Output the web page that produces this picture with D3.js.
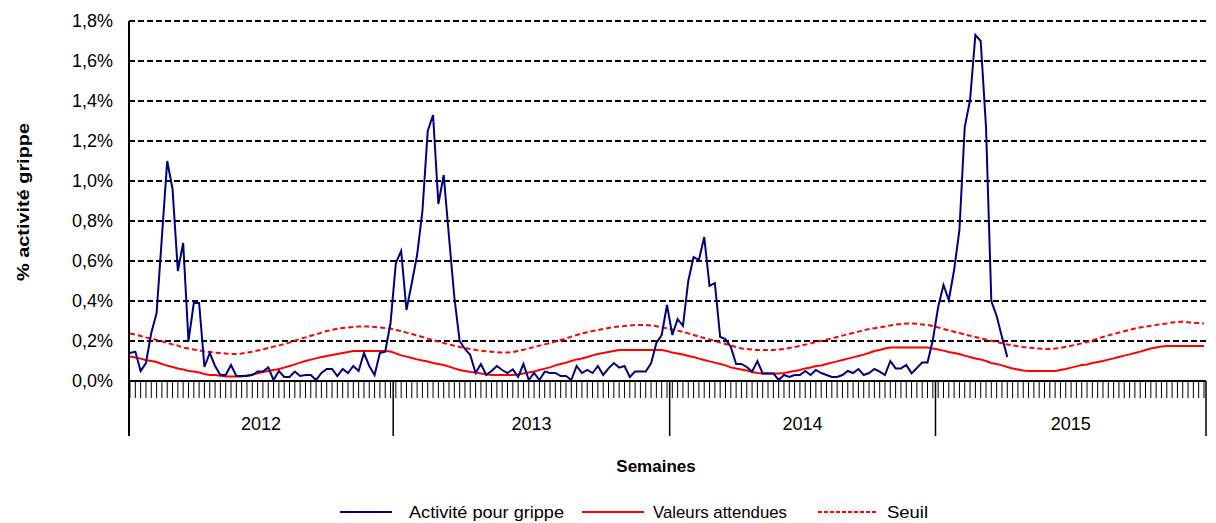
<!DOCTYPE html>
<html>
<head>
<meta charset="utf-8">
<script src="https://cdn.jsdelivr.net/npm/d3@7"></script>
<style>
  body { margin: 0; background: #fff; }
  text { font-family: Arial, "Liberation Sans", sans-serif; fill: #000; }
</style>
</head>
<body>
<div id="chart"></div>
<script>
/* data (values in %) */
var years = ["2012", "2013", "2014", "2015"];
var weeksPerYear = [50, 52, 50, 51];
var yTicks = [0, 0.2, 0.4, 0.6, 0.8, 1.0, 1.2, 1.4, 1.6, 1.8];
var legendNames = ["Activité pour grippe", "Valeurs attendues", "Seuil"];

var activite = [
  0.14, 0.147, 0.05, 0.09, 0.24, 0.34, 0.72, 1.10, 0.96, 0.55,
  0.69, 0.20, 0.39, 0.39, 0.07, 0.14, 0.075, 0.03, 0.03, 0.08,
  0.025, 0.025, 0.025, 0.03, 0.047, 0.047, 0.068, 0.005, 0.05, 0.02,
  0.02, 0.047, 0.025, 0.03, 0.03, 0.005, 0.04, 0.06, 0.06, 0.025,
  0.06, 0.04, 0.075, 0.05, 0.14, 0.075, 0.03, 0.14, 0.147, 0.29,
  0.59, 0.65, 0.355, 0.49, 0.63, 0.85, 1.25, 1.33, 0.885, 1.03,
  0.72, 0.42, 0.20, 0.16, 0.13, 0.04, 0.085, 0.03, 0.05, 0.075,
  0.055, 0.04, 0.058, 0.02, 0.085, 0.005, 0.04, 0.005, 0.047, 0.04,
  0.04, 0.025, 0.025, 0.005, 0.075, 0.04, 0.055, 0.04, 0.075, 0.03,
  0.063, 0.09, 0.067, 0.075, 0.02, 0.047, 0.047, 0.047, 0.088, 0.19,
  0.23, 0.38, 0.23, 0.31, 0.275, 0.50, 0.62, 0.605, 0.72, 0.475,
  0.49, 0.22, 0.21, 0.17, 0.085, 0.085, 0.07, 0.047, 0.10, 0.038,
  0.038, 0.038, 0.005, 0.03, 0.02, 0.03, 0.03, 0.05, 0.03, 0.055,
  0.04, 0.03, 0.02, 0.02, 0.03, 0.05, 0.04, 0.06, 0.03, 0.04,
  0.06, 0.047, 0.03, 0.10, 0.063, 0.063, 0.08, 0.038, 0.065, 0.093,
  0.093, 0.205, 0.37, 0.48, 0.405, 0.555, 0.755, 1.27, 1.405, 1.73,
  1.70, 1.27, 0.40, 0.325, 0.22, 0.12
];

var attendues = [
  0.122, 0.118, 0.112, 0.105, 0.100, 0.095, 0.085, 0.077, 0.070, 0.063,
  0.058, 0.050, 0.047, 0.042, 0.035, 0.030, 0.030, 0.026, 0.022, 0.022,
  0.022, 0.022, 0.028, 0.032, 0.038, 0.045, 0.050, 0.055, 0.060, 0.067,
  0.075, 0.083, 0.092, 0.100, 0.107, 0.113, 0.120, 0.125, 0.130, 0.135,
  0.140, 0.145, 0.150, 0.150, 0.150, 0.150, 0.150, 0.150, 0.150, 0.147,
  0.138, 0.128, 0.122, 0.115, 0.108, 0.102, 0.097, 0.090, 0.085, 0.080,
  0.072, 0.063, 0.055, 0.050, 0.045, 0.042, 0.038, 0.034, 0.030, 0.030,
  0.030, 0.030, 0.030, 0.033, 0.038, 0.043, 0.047, 0.055, 0.062, 0.068,
  0.078, 0.085, 0.092, 0.100, 0.108, 0.113, 0.120, 0.128, 0.135, 0.140,
  0.145, 0.150, 0.155, 0.155, 0.155, 0.155, 0.155, 0.155, 0.155, 0.155,
  0.155, 0.150, 0.142, 0.137, 0.132, 0.125, 0.120, 0.112, 0.105, 0.098,
  0.092, 0.085, 0.078, 0.068, 0.062, 0.057, 0.052, 0.045, 0.040, 0.038,
  0.038, 0.038, 0.038, 0.040, 0.045, 0.050, 0.055, 0.063, 0.068, 0.075,
  0.078, 0.085, 0.092, 0.098, 0.105, 0.112, 0.118, 0.125, 0.132, 0.140,
  0.150, 0.155, 0.162, 0.167, 0.167, 0.167, 0.167, 0.167, 0.167, 0.167,
  0.167, 0.162, 0.158, 0.152, 0.145, 0.140, 0.135, 0.127, 0.120, 0.113,
  0.108, 0.100, 0.090, 0.085, 0.078, 0.070, 0.063, 0.058, 0.052, 0.050,
  0.050, 0.050, 0.050, 0.050, 0.050, 0.055, 0.060, 0.067, 0.073, 0.080,
  0.083, 0.090, 0.095, 0.100, 0.107, 0.113, 0.120, 0.127, 0.133, 0.140,
  0.147, 0.155, 0.162, 0.167, 0.172, 0.175, 0.175, 0.175, 0.175, 0.175,
  0.175, 0.175, 0.175
];

var seuil = [
  0.238, 0.232, 0.225, 0.218, 0.212, 0.205, 0.198, 0.190, 0.183, 0.177,
  0.167, 0.162, 0.157, 0.153, 0.148, 0.145, 0.142, 0.140, 0.137, 0.135,
  0.135, 0.138, 0.142, 0.146, 0.152, 0.158, 0.165, 0.172, 0.178, 0.185,
  0.192, 0.202, 0.210, 0.218, 0.226, 0.233, 0.242, 0.250, 0.256, 0.261,
  0.265, 0.268, 0.270, 0.272, 0.272, 0.272, 0.270, 0.268, 0.265, 0.262,
  0.255, 0.250, 0.242, 0.235, 0.228, 0.220, 0.212, 0.205, 0.197, 0.190,
  0.183, 0.176, 0.170, 0.165, 0.160, 0.155, 0.152, 0.149, 0.146, 0.144,
  0.142, 0.142, 0.145, 0.150, 0.156, 0.163, 0.170, 0.177, 0.183, 0.190,
  0.197, 0.205, 0.212, 0.222, 0.230, 0.238, 0.244, 0.250, 0.255, 0.260,
  0.265, 0.270, 0.273, 0.275, 0.278, 0.280, 0.280, 0.280, 0.278, 0.274,
  0.268, 0.264, 0.258, 0.252, 0.245, 0.238, 0.230, 0.222, 0.215, 0.208,
  0.200, 0.192, 0.185, 0.178, 0.170, 0.163, 0.160, 0.157, 0.155, 0.155,
  0.155, 0.155, 0.157, 0.160, 0.165, 0.170, 0.175, 0.182, 0.188, 0.195,
  0.200, 0.207, 0.213, 0.220, 0.227, 0.234, 0.240, 0.247, 0.253, 0.260,
  0.264, 0.268, 0.273, 0.278, 0.282, 0.285, 0.288, 0.288, 0.286, 0.283,
  0.280, 0.275, 0.268, 0.260, 0.253, 0.246, 0.240, 0.233, 0.226, 0.220,
  0.213, 0.207, 0.201, 0.195, 0.189, 0.183, 0.178, 0.174, 0.170, 0.167,
  0.165, 0.162, 0.160, 0.160, 0.162, 0.166, 0.171, 0.176, 0.182, 0.188,
  0.195, 0.203, 0.212, 0.220, 0.228, 0.235, 0.242, 0.249, 0.256, 0.262,
  0.268, 0.272, 0.276, 0.280, 0.285, 0.288, 0.292, 0.295, 0.297, 0.294,
  0.290, 0.290, 0.288
];

/* week categories built from the years */
var weeks = [];
years.forEach(function (y, k) {
  for (var w = 1; w <= weeksPerYear[k]; w++) weeks.push(y + "-S" + w);
});

var W = 1216, H = 523;
var plot = { left: 129, right: 1206, top: 21, bottom: 381 };

var svg = d3.select("#chart")
            .append("svg")
            .attr("width", W)
            .attr("height", H);

var x = d3.scalePoint()
          .domain(weeks)
          .range([130, 1204]);

var y = d3.scaleLinear()
          .domain([0, 1.8])
          .range([plot.bottom, plot.top]);

var fmt = function (v) { return v.toFixed(1).replace(".", ",") + "%"; };

/* dashed grid */
svg.selectAll(".grid")
   .data(yTicks.filter(function (d) { return d > 0; }))
   .enter()
   .append("line")
   .attr("x1", plot.left)
   .attr("x2", plot.right)
   .attr("y1", function (d) { return y(d); })
   .attr("y2", function (d) { return y(d); })
   .style("stroke", "#000")
   .style("stroke-width", 2)
   .style("stroke-dasharray", "6,3");

/* y axis labels + small ticks */
svg.selectAll(".ylab")
   .data(yTicks)
   .enter()
   .append("text")
   .attr("x", 113)
   .attr("y", function (d) { return y(d) + 6; })
   .attr("text-anchor", "end")
   .style("font-size", "18px")
   .text(fmt);

svg.selectAll(".ytick")
   .data(yTicks)
   .enter()
   .append("line")
   .attr("x1", plot.left)
   .attr("x2", plot.left + 4)
   .attr("y1", function (d) { return y(d); })
   .attr("y2", function (d) { return y(d); })
   .style("stroke", "#000")
   .style("stroke-width", 2);

/* week ticks on x axis */
svg.selectAll(".xtick")
   .data(weeks)
   .enter()
   .append("line")
   .attr("x1", function (d) { return x(d); })
   .attr("x2", function (d) { return x(d); })
   .attr("y1", plot.bottom)
   .attr("y2", plot.bottom + 17)
   .style("stroke", "#000")
   .style("stroke-width", 1);

/* year separators and labels */
var bounds = [plot.left];
var idx = 0;
weeksPerYear.forEach(function (n, k) {
  idx += n;
  if (k < weeksPerYear.length - 1) bounds.push((x(weeks[idx - 1]) + x(weeks[idx])) / 2);
});
bounds.push(plot.right);

svg.selectAll(".ysep")
   .data(bounds)
   .enter()
   .append("line")
   .attr("x1", function (d) { return d; })
   .attr("x2", function (d) { return d; })
   .attr("y1", plot.bottom)
   .attr("y2", 436)
   .style("stroke", "#000")
   .style("stroke-width", 1.5);

svg.selectAll(".year")
   .data(years)
   .enter()
   .append("text")
   .attr("x", function (d, i) { return (bounds[i] + bounds[i + 1]) / 2; })
   .attr("y", 430)
   .attr("text-anchor", "middle")
   .style("font-size", "18px")
   .text(function (d) { return d; });

/* axis lines */
svg.append("line")
   .attr("x1", plot.left).attr("x2", plot.left)
   .attr("y1", plot.top).attr("y2", 436)
   .style("stroke", "#000").style("stroke-width", 2);
svg.append("line")
   .attr("x1", plot.left).attr("x2", plot.right)
   .attr("y1", plot.bottom).attr("y2", plot.bottom)
   .style("stroke", "#000").style("stroke-width", 2);

/* series */
var line = d3.line()
             .x(function (d, i) { return x(weeks[i]); })
             .y(function (d) { return y(d); });

svg.append("path")
   .attr("d", line(seuil))
   .style("fill", "none")
   .style("stroke", "#ff0000")
   .style("stroke-width", 2)
   .style("stroke-dasharray", "5,3");

svg.append("path")
   .attr("d", line(attendues))
   .style("fill", "none")
   .style("stroke", "#ff0000")
   .style("stroke-width", 2);

svg.append("path")
   .attr("d", line(activite))
   .style("fill", "none")
   .style("stroke", "#000080")
   .style("stroke-width", 2);

/* axis titles */
svg.append("text")
   .attr("transform", "translate(29,202) rotate(-90)")
   .attr("text-anchor", "middle")
   .style("font-size", "17px")
   .style("font-weight", "bold")
   .attr("textLength", 158)
   .attr("lengthAdjust", "spacingAndGlyphs")
   .text("% activité grippe");

svg.append("text")
   .attr("x", 656)
   .attr("y", 472)
   .attr("text-anchor", "middle")
   .style("font-size", "17px")
   .style("font-weight", "bold")
   .text("Semaines");

/* legend */
var legend = [
  { name: legendNames[0], color: "#000080", dash: null, x1: 340, x2: 392, tx: 409, tw: 155 },
  { name: legendNames[1], color: "#ff0000", dash: null, x1: 582, x2: 644, tx: 653, tw: 134 },
  { name: legendNames[2], color: "#ff0000", dash: "4,2", x1: 818, x2: 878, tx: 887, tw: 41 }
];
var lg = svg.selectAll(".leg")
            .data(legend)
            .enter()
            .append("g");
lg.append("line")
  .attr("x1", function (d) { return d.x1; })
  .attr("x2", function (d) { return d.x2; })
  .attr("y1", 512)
  .attr("y2", 512)
  .style("stroke", function (d) { return d.color; })
  .style("stroke-width", 2)
  .style("stroke-dasharray", function (d) { return d.dash; });
lg.append("text")
  .attr("x", function (d) { return d.tx; })
  .attr("y", 518)
  .attr("textLength", function (d) { return d.tw; })
  .attr("lengthAdjust", "spacingAndGlyphs")
  .style("font-size", "17px")
  .text(function (d) { return d.name; });
</script>
</body>
</html>
